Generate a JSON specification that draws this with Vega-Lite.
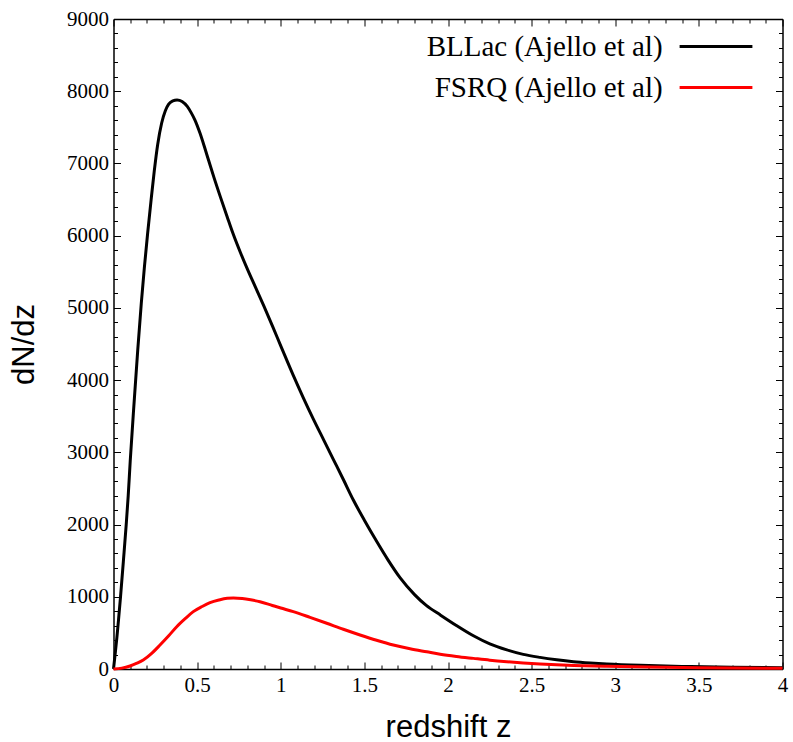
{
  "$schema": "https://vega.github.io/schema/vega-lite/v6.json",
  "width": 669,
  "height": 650,
  "autosize": "none",
  "padding": {"left": 113.5, "top": 19, "right": 10.5, "bottom": 73},
  "background": "white",
  "config": {
    "view": {"stroke": null},
    "axis": {
      "domainColor": "black",
      "domainWidth": 1.5,
      "tickColor": "black",
      "tickWidth": 1,
      "labelFont": "Liberation Serif",
      "labelFontSize": 21,
      "labelColor": "black",
      "titleFont": "Liberation Sans",
      "titleFontSize": 31,
      "titleFontWeight": "normal",
      "titleColor": "black",
      "grid": false,
      "labelOverlap": false,
      "labelFlush": false,
      "labelBound": false
    },
    "legend": {
      "labelFont": "Liberation Serif",
      "labelFontSize": 29,
      "labelColor": "black",
      "labelLimit": 500
    }
  },
  "data": {
    "values": [
      {"z": 0, "dNdz": 0, "series": "BLLac (Ajello et al)"},
      {"z": 0.01, "dNdz": 210, "series": "BLLac (Ajello et al)"},
      {"z": 0.02, "dNdz": 430, "series": "BLLac (Ajello et al)"},
      {"z": 0.03, "dNdz": 680, "series": "BLLac (Ajello et al)"},
      {"z": 0.042, "dNdz": 1000, "series": "BLLac (Ajello et al)"},
      {"z": 0.06, "dNdz": 1520, "series": "BLLac (Ajello et al)"},
      {"z": 0.076, "dNdz": 2000, "series": "BLLac (Ajello et al)"},
      {"z": 0.088, "dNdz": 2400, "series": "BLLac (Ajello et al)"},
      {"z": 0.1, "dNdz": 2880, "series": "BLLac (Ajello et al)"},
      {"z": 0.125, "dNdz": 3750, "series": "BLLac (Ajello et al)"},
      {"z": 0.145, "dNdz": 4420, "series": "BLLac (Ajello et al)"},
      {"z": 0.166, "dNdz": 5060, "series": "BLLac (Ajello et al)"},
      {"z": 0.185, "dNdz": 5570, "series": "BLLac (Ajello et al)"},
      {"z": 0.204, "dNdz": 6030, "series": "BLLac (Ajello et al)"},
      {"z": 0.225, "dNdz": 6500, "series": "BLLac (Ajello et al)"},
      {"z": 0.244, "dNdz": 6900, "series": "BLLac (Ajello et al)"},
      {"z": 0.264, "dNdz": 7260, "series": "BLLac (Ajello et al)"},
      {"z": 0.288, "dNdz": 7560, "series": "BLLac (Ajello et al)"},
      {"z": 0.31, "dNdz": 7730, "series": "BLLac (Ajello et al)"},
      {"z": 0.33, "dNdz": 7820, "series": "BLLac (Ajello et al)"},
      {"z": 0.355, "dNdz": 7866, "series": "BLLac (Ajello et al)"},
      {"z": 0.38, "dNdz": 7880, "series": "BLLac (Ajello et al)"},
      {"z": 0.41, "dNdz": 7858, "series": "BLLac (Ajello et al)"},
      {"z": 0.441, "dNdz": 7790, "series": "BLLac (Ajello et al)"},
      {"z": 0.465, "dNdz": 7700, "series": "BLLac (Ajello et al)"},
      {"z": 0.487, "dNdz": 7600, "series": "BLLac (Ajello et al)"},
      {"z": 0.517, "dNdz": 7420, "series": "BLLac (Ajello et al)"},
      {"z": 0.545, "dNdz": 7220, "series": "BLLac (Ajello et al)"},
      {"z": 0.569, "dNdz": 7040, "series": "BLLac (Ajello et al)"},
      {"z": 0.6, "dNdz": 6810, "series": "BLLac (Ajello et al)"},
      {"z": 0.64, "dNdz": 6530, "series": "BLLac (Ajello et al)"},
      {"z": 0.68, "dNdz": 6260, "series": "BLLac (Ajello et al)"},
      {"z": 0.713, "dNdz": 6040, "series": "BLLac (Ajello et al)"},
      {"z": 0.76, "dNdz": 5760, "series": "BLLac (Ajello et al)"},
      {"z": 0.8, "dNdz": 5540, "series": "BLLac (Ajello et al)"},
      {"z": 0.85, "dNdz": 5280, "series": "BLLac (Ajello et al)"},
      {"z": 0.9, "dNdz": 5020, "series": "BLLac (Ajello et al)"},
      {"z": 0.95, "dNdz": 4750, "series": "BLLac (Ajello et al)"},
      {"z": 1.0, "dNdz": 4475, "series": "BLLac (Ajello et al)"},
      {"z": 1.075, "dNdz": 4065, "series": "BLLac (Ajello et al)"},
      {"z": 1.135, "dNdz": 3755, "series": "BLLac (Ajello et al)"},
      {"z": 1.195, "dNdz": 3460, "series": "BLLac (Ajello et al)"},
      {"z": 1.255, "dNdz": 3180, "series": "BLLac (Ajello et al)"},
      {"z": 1.315, "dNdz": 2900, "series": "BLLac (Ajello et al)"},
      {"z": 1.375, "dNdz": 2620, "series": "BLLac (Ajello et al)"},
      {"z": 1.434, "dNdz": 2340, "series": "BLLac (Ajello et al)"},
      {"z": 1.5, "dNdz": 2060, "series": "BLLac (Ajello et al)"},
      {"z": 1.574, "dNdz": 1765, "series": "BLLac (Ajello et al)"},
      {"z": 1.64, "dNdz": 1515, "series": "BLLac (Ajello et al)"},
      {"z": 1.713, "dNdz": 1265, "series": "BLLac (Ajello et al)"},
      {"z": 1.8, "dNdz": 1030, "series": "BLLac (Ajello et al)"},
      {"z": 1.87, "dNdz": 880, "series": "BLLac (Ajello et al)"},
      {"z": 1.953, "dNdz": 750, "series": "BLLac (Ajello et al)"},
      {"z": 2.05, "dNdz": 603, "series": "BLLac (Ajello et al)"},
      {"z": 2.152, "dNdz": 460, "series": "BLLac (Ajello et al)"},
      {"z": 2.25, "dNdz": 348, "series": "BLLac (Ajello et al)"},
      {"z": 2.352, "dNdz": 265, "series": "BLLac (Ajello et al)"},
      {"z": 2.45, "dNdz": 203, "series": "BLLac (Ajello et al)"},
      {"z": 2.55, "dNdz": 161, "series": "BLLac (Ajello et al)"},
      {"z": 2.65, "dNdz": 128, "series": "BLLac (Ajello et al)"},
      {"z": 2.75, "dNdz": 102, "series": "BLLac (Ajello et al)"},
      {"z": 2.85, "dNdz": 84, "series": "BLLac (Ajello et al)"},
      {"z": 2.95, "dNdz": 70, "series": "BLLac (Ajello et al)"},
      {"z": 3.15, "dNdz": 51, "series": "BLLac (Ajello et al)"},
      {"z": 3.3, "dNdz": 41, "series": "BLLac (Ajello et al)"},
      {"z": 3.45, "dNdz": 34, "series": "BLLac (Ajello et al)"},
      {"z": 3.7, "dNdz": 25, "series": "BLLac (Ajello et al)"},
      {"z": 4.0, "dNdz": 17, "series": "BLLac (Ajello et al)"},
      {"z": 0, "dNdz": 0, "series": "FSRQ (Ajello et al)"},
      {"z": 0.05, "dNdz": 12, "series": "FSRQ (Ajello et al)"},
      {"z": 0.099, "dNdz": 42, "series": "FSRQ (Ajello et al)"},
      {"z": 0.14, "dNdz": 80, "series": "FSRQ (Ajello et al)"},
      {"z": 0.178, "dNdz": 125, "series": "FSRQ (Ajello et al)"},
      {"z": 0.23, "dNdz": 220, "series": "FSRQ (Ajello et al)"},
      {"z": 0.278, "dNdz": 332, "series": "FSRQ (Ajello et al)"},
      {"z": 0.33, "dNdz": 460, "series": "FSRQ (Ajello et al)"},
      {"z": 0.378, "dNdz": 586, "series": "FSRQ (Ajello et al)"},
      {"z": 0.43, "dNdz": 700, "series": "FSRQ (Ajello et al)"},
      {"z": 0.477, "dNdz": 794, "series": "FSRQ (Ajello et al)"},
      {"z": 0.53, "dNdz": 865, "series": "FSRQ (Ajello et al)"},
      {"z": 0.577, "dNdz": 918, "series": "FSRQ (Ajello et al)"},
      {"z": 0.63, "dNdz": 955, "series": "FSRQ (Ajello et al)"},
      {"z": 0.68, "dNdz": 978, "series": "FSRQ (Ajello et al)"},
      {"z": 0.717, "dNdz": 982, "series": "FSRQ (Ajello et al)"},
      {"z": 0.77, "dNdz": 975, "series": "FSRQ (Ajello et al)"},
      {"z": 0.82, "dNdz": 958, "series": "FSRQ (Ajello et al)"},
      {"z": 0.876, "dNdz": 932, "series": "FSRQ (Ajello et al)"},
      {"z": 0.95, "dNdz": 880, "series": "FSRQ (Ajello et al)"},
      {"z": 1.0, "dNdz": 845, "series": "FSRQ (Ajello et al)"},
      {"z": 1.075, "dNdz": 794, "series": "FSRQ (Ajello et al)"},
      {"z": 1.175, "dNdz": 715, "series": "FSRQ (Ajello et al)"},
      {"z": 1.275, "dNdz": 633, "series": "FSRQ (Ajello et al)"},
      {"z": 1.374, "dNdz": 550, "series": "FSRQ (Ajello et al)"},
      {"z": 1.474, "dNdz": 471, "series": "FSRQ (Ajello et al)"},
      {"z": 1.573, "dNdz": 398, "series": "FSRQ (Ajello et al)"},
      {"z": 1.673, "dNdz": 332, "series": "FSRQ (Ajello et al)"},
      {"z": 1.773, "dNdz": 280, "series": "FSRQ (Ajello et al)"},
      {"z": 1.873, "dNdz": 238, "series": "FSRQ (Ajello et al)"},
      {"z": 1.953, "dNdz": 205, "series": "FSRQ (Ajello et al)"},
      {"z": 2.05, "dNdz": 174, "series": "FSRQ (Ajello et al)"},
      {"z": 2.152, "dNdz": 147, "series": "FSRQ (Ajello et al)"},
      {"z": 2.25, "dNdz": 122, "series": "FSRQ (Ajello et al)"},
      {"z": 2.352, "dNdz": 101, "series": "FSRQ (Ajello et al)"},
      {"z": 2.45, "dNdz": 84, "series": "FSRQ (Ajello et al)"},
      {"z": 2.55, "dNdz": 70, "series": "FSRQ (Ajello et al)"},
      {"z": 2.65, "dNdz": 59, "series": "FSRQ (Ajello et al)"},
      {"z": 2.75, "dNdz": 50, "series": "FSRQ (Ajello et al)"},
      {"z": 2.95, "dNdz": 38, "series": "FSRQ (Ajello et al)"},
      {"z": 3.2, "dNdz": 28, "series": "FSRQ (Ajello et al)"},
      {"z": 3.5, "dNdz": 18, "series": "FSRQ (Ajello et al)"},
      {"z": 4.0, "dNdz": 10, "series": "FSRQ (Ajello et al)"}
    ]
  },
  "encoding": {
    "x": {"field": "z", "type": "quantitative", "scale": {"domain": [0, 4], "nice": false, "zero": false}},
    "y": {"field": "dNdz", "type": "quantitative", "scale": {"domain": [0, 9000], "nice": false}},
    "color": {
      "field": "series",
      "type": "nominal",
      "scale": {"domain": ["BLLac (Ajello et al)", "FSRQ (Ajello et al)"], "range": ["#000000", "#ff0000"]},
      "legend": {
        "title": null,
        "orient": "none",
        "legendX": 582.5,
        "legendY": 7.5,
        "symbolType": "M-2,0H2",
        "symbolSize": 1325,
        "symbolStrokeWidth": 3,
        "symbolFillColor": "transparent",
        "labelAlign": "right",
        "labelOffset": -73.4,
        "rowPadding": 6
      }
    }
  },
  "layer": [
    {
      "transform": [{"filter": "datum.series === 'BLLac (Ajello et al)'"}],
      "mark": {"type": "line", "strokeWidth": 3, "interpolate": "monotone"},
      "encoding": {
        "x": {"field": "z", "type": "quantitative", "title": "redshift z",
          "axis": {"orient": "bottom",
            "values": [0,0.1,0.2,0.3,0.4,0.5,0.6,0.7,0.8,0.9,1,1.1,1.2,1.3,1.4,1.5,1.6,1.7,1.8,1.9,2,2.1,2.2,2.3,2.4,2.5,2.6,2.7,2.8,2.9,3,3.1,3.2,3.3,3.4,3.5,3.6,3.7,3.8,3.9,4],
            "tickSize": {"condition": {"test": "abs(datum.value*2 - round(datum.value*2)) < 0.000001", "value": -7}, "value": -4},
            "labelExpr": "abs(datum.value*2 - round(datum.value*2)) < 0.000001 ? format(datum.value, '~g') : ''",
            "labelPadding": 12,
            "titlePadding": 14}},
        "y": {"field": "dNdz", "type": "quantitative", "title": "dN/dz",
          "axis": {"orient": "left",
            "values": [0,200,400,600,800,1000,1200,1400,1600,1800,2000,2200,2400,2600,2800,3000,3200,3400,3600,3800,4000,4200,4400,4600,4800,5000,5200,5400,5600,5800,6000,6200,6400,6600,6800,7000,7200,7400,7600,7800,8000,8200,8400,8600,8800,9000],
            "tickSize": {"condition": {"test": "datum.value % 1000 === 0", "value": -7}, "value": -4},
            "labelExpr": "datum.value % 1000 === 0 ? format(datum.value, 'd') : ''",
            "labelPadding": 12,
            "titlePadding": 26}}
      }
    },
    {
      "transform": [{"filter": "datum.series === 'FSRQ (Ajello et al)'"}],
      "mark": {"type": "line", "strokeWidth": 3, "interpolate": "monotone"},
      "encoding": {
        "x": {"field": "z", "type": "quantitative", "title": null,
          "axis": {"orient": "top", "labels": false,
            "values": [0,0.1,0.2,0.3,0.4,0.5,0.6,0.7,0.8,0.9,1,1.1,1.2,1.3,1.4,1.5,1.6,1.7,1.8,1.9,2,2.1,2.2,2.3,2.4,2.5,2.6,2.7,2.8,2.9,3,3.1,3.2,3.3,3.4,3.5,3.6,3.7,3.8,3.9,4],
            "tickSize": {"condition": {"test": "abs(datum.value*2 - round(datum.value*2)) < 0.000001", "value": -7}, "value": -4}}},
        "y": {"field": "dNdz", "type": "quantitative", "title": null,
          "axis": {"orient": "right", "labels": false,
            "values": [0,200,400,600,800,1000,1200,1400,1600,1800,2000,2200,2400,2600,2800,3000,3200,3400,3600,3800,4000,4200,4400,4600,4800,5000,5200,5400,5600,5800,6000,6200,6400,6600,6800,7000,7200,7400,7600,7800,8000,8200,8400,8600,8800,9000],
            "tickSize": {"condition": {"test": "datum.value % 1000 === 0", "value": -7}, "value": -4}}}
      }
    }
  ],
  "resolve": {"axis": {"x": "independent", "y": "independent"}}
}
